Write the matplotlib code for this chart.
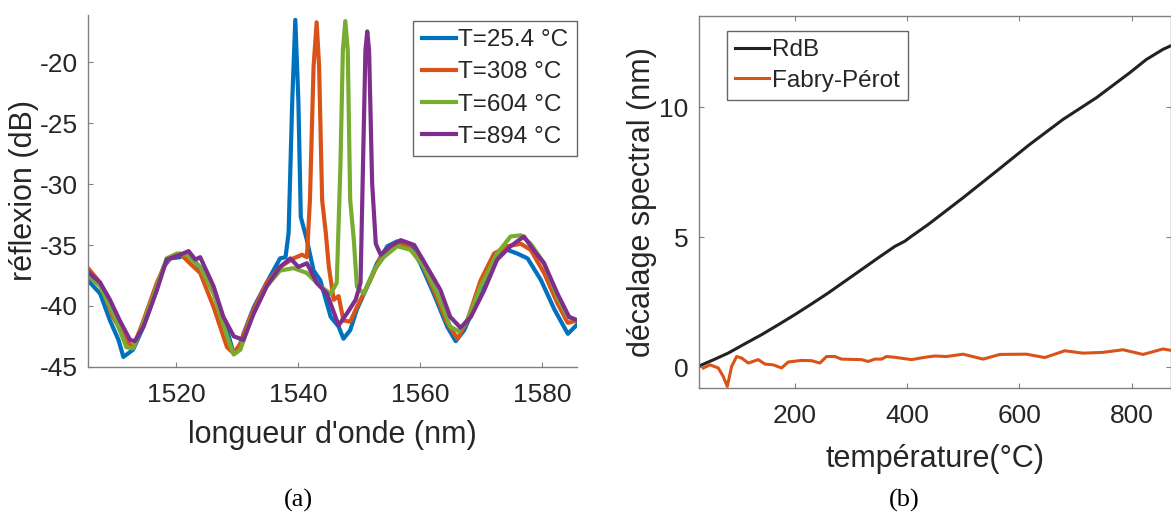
import numpy as np
import matplotlib
matplotlib.use("Agg")
import matplotlib.pyplot as plt

plt.rcParams['font.family'] = ['Liberation Sans', 'DejaVu Sans']
plt.rcParams['axes.unicode_minus'] = False

# (a) reflection spectra, wavelength (nm) / reflection (dB)
wl_25 = [1505.5, 1507.5, 1509.1, 1510.5, 1511.3, 1512.9, 1514.6, 1516.2, 1517.9, 1519.0,
         1520.6, 1521.7, 1523.3, 1525.0, 1526.6, 1528.3, 1529.4, 1530.2, 1531.0, 1532.7,
         1534.8, 1537.0, 1537.9, 1538.4, 1539.0, 1539.5, 1540.0, 1540.4, 1541.4, 1542.5,
         1543.6, 1545.3, 1546.6, 1547.4, 1548.5, 1549.6, 1551.3, 1552.9, 1554.6, 1556.2,
         1558.4, 1560.0, 1562.2, 1564.4, 1565.8, 1567.2, 1569.4, 1571.5, 1573.7, 1575.9,
         1577.6, 1579.8, 1582.0, 1584.2, 1585.8]
r_25 = [-37.9, -39.0, -41.2, -42.8, -44.2, -43.6, -41.7, -39.5, -36.8, -36.1,
        -36.0, -35.7, -36.5, -37.6, -39.5, -42.0, -43.9, -43.6, -42.3, -40.1,
        -38.1, -36.1, -36.0, -34.0, -23.1, -16.5, -23.1, -32.7, -34.6, -37.1,
        -37.9, -40.9, -41.7, -42.7, -42.0, -40.3, -38.4, -36.5, -35.1, -34.7,
        -35.1, -36.5, -39.0, -41.7, -42.9, -42.0, -39.5, -36.8, -35.3, -35.7,
        -36.1, -37.9, -40.3, -42.3, -41.5]

wl_308 = [1505.5, 1507.5, 1509.6, 1511.8, 1512.9, 1514.6, 1516.8, 1518.4, 1520.6, 1522.2,
          1523.9, 1526.1, 1528.3, 1529.4, 1530.5, 1532.1, 1534.8, 1537.0, 1539.2, 1540.6,
          1541.4, 1541.9, 1542.5, 1543.0, 1543.4, 1543.9, 1544.5, 1545.0, 1545.8, 1546.6,
          1547.4, 1548.5, 1549.6, 1551.8, 1553.5, 1555.7, 1557.9, 1560.0, 1562.2, 1564.4,
          1566.1, 1567.7, 1569.9, 1572.1, 1574.3, 1576.5, 1578.1, 1580.3, 1582.5, 1584.2,
          1585.8]
r_308 = [-36.9, -38.1, -40.9, -42.9, -43.4, -41.2, -38.1, -36.3, -35.7, -36.5,
         -37.3, -40.1, -43.4, -43.9, -43.1, -40.9, -38.1, -36.8, -36.1, -35.8,
         -36.0, -31.3, -20.3, -16.7, -20.3, -31.3, -34.0, -36.8, -39.5, -39.2,
         -41.2, -41.3, -40.1, -37.9, -36.0, -34.9, -35.1, -36.2, -38.7, -41.4,
         -42.7, -41.2, -37.9, -35.7, -35.1, -34.9, -35.4, -37.3, -39.8, -41.4,
         -41.2]

wl_604 = [1505.5, 1507.5, 1509.6, 1511.8, 1512.9, 1514.6, 1516.8, 1518.4, 1520.1, 1521.7,
          1523.9, 1526.1, 1528.3, 1529.4, 1530.5, 1532.1, 1534.8, 1537.0, 1539.2, 1541.4,
          1543.6, 1545.3, 1546.3, 1546.9, 1547.3, 1547.7, 1548.1, 1548.5, 1549.1, 1549.6,
          1550.7, 1552.4, 1554.0, 1556.2, 1558.4, 1560.6, 1562.8, 1564.9, 1566.3, 1567.7,
          1569.9, 1572.6, 1574.8, 1576.5, 1578.1, 1580.3, 1582.5, 1584.2, 1585.8]
r_604 = [-37.5, -38.4, -40.6, -43.4, -43.5, -41.4, -38.4, -36.1, -35.7, -35.8,
         -36.8, -39.0, -42.5, -44.0, -43.6, -41.2, -38.4, -37.1, -36.9, -37.3,
         -38.4, -39.0, -38.1, -28.5, -19.0, -16.6, -19.0, -31.3, -34.6, -38.4,
         -39.0, -37.1, -36.0, -35.1, -35.4, -36.8, -39.0, -41.7, -42.1, -41.2,
         -38.4, -35.7, -34.3, -34.2, -34.9, -36.5, -39.3, -40.9, -41.2]

wl_894 = [1505.5, 1507.5, 1509.1, 1510.7, 1512.4, 1513.2, 1514.6, 1516.8, 1518.4, 1520.6,
          1522.0, 1523.1, 1523.9, 1526.1, 1527.7, 1529.4, 1531.0, 1532.7, 1534.8, 1537.0,
          1538.7, 1540.0, 1541.4, 1543.0, 1544.7, 1546.6, 1548.0, 1549.4, 1550.2, 1550.6,
          1551.0, 1551.3, 1551.6, 1552.1, 1552.7, 1553.5, 1555.1, 1556.8, 1559.0, 1561.1,
          1563.3, 1564.9, 1566.6, 1568.3, 1570.5, 1572.6, 1574.8, 1577.0, 1578.7, 1580.3,
          1582.5, 1584.4, 1585.8]
r_894 = [-37.2, -38.1, -39.5, -41.2, -42.8, -42.9, -41.7, -38.7, -36.2, -35.8,
         -35.5, -36.2, -36.0, -38.4, -40.9, -42.5, -42.8, -40.6, -38.4, -36.8,
         -36.1, -36.8, -36.5, -38.1, -39.0, -41.6, -40.6, -39.5, -38.1, -28.5,
         -19.0, -17.45, -19.0, -29.9, -34.9, -35.8, -35.1, -34.6, -35.0, -36.8,
         -38.7, -40.9, -41.8, -40.9, -38.7, -36.2, -35.1, -34.3, -35.5, -36.5,
         -39.0, -40.9, -41.2]

labels_a = ['T=25.4 °C', 'T=308 °C', 'T=604 °C', 'T=894 °C']
colors_a = ['#0072BD', '#D95319', '#77AC30', '#7E2F8E']

# (b) spectral shift vs temperature
temp_rdb = [31, 57.6, 81, 111, 140.7, 170.3, 200, 229.7, 259.3, 289, 318.7, 348.3, 378,
            395.8, 407.7, 437.3, 499.6, 559, 618.4, 677.7, 737, 796.4, 826, 855.7, 869]
shift_rdb = [0.07, 0.32, 0.55, 0.91, 1.26, 1.64, 2.03, 2.44, 2.86, 3.31, 3.76, 4.21, 4.65,
             4.85, 5.04, 5.49, 6.52, 7.54, 8.57, 9.53, 10.36, 11.32, 11.83, 12.22, 12.35]

temp_fp = [36.8, 48.7, 63.5, 72.4, 79.5, 87.3, 96.2, 105.1, 116.9, 134.7, 146.6, 161.4,
           176.3, 188.1, 211.9, 229.7, 244.5, 256.4, 271.2, 283.1, 318.7, 330.5, 342.4,
           354.3, 363.2, 378, 407.7, 431.4, 449.2, 470, 499.6, 535.2, 564.9, 612.4, 645,
           680.6, 713.2, 748.8, 784.4, 820, 855.6, 869]
shift_fp = [-0.02, 0.10, -0.02, -0.35, -0.73, 0.04, 0.42, 0.36, 0.17, 0.30, 0.13, 0.10,
            -0.02, 0.21, 0.27, 0.26, 0.17, 0.42, 0.42, 0.32, 0.30, 0.23, 0.32,
            0.32, 0.42, 0.39, 0.30, 0.39, 0.44, 0.42, 0.51, 0.32, 0.50, 0.51, 0.38,
            0.64, 0.55, 0.58, 0.68, 0.50, 0.71, 0.66]

W, H = 1171, 524
fig = plt.figure(figsize=(W / 100, H / 100), dpi=100)

spine_c = '#808080'
text_c = '#262626'


def px_box(x0, y0, x1, y1):
    # pixel box (top-left origin) -> figure fraction rect
    return [x0 / W, (H - y1) / H, (x1 - x0) / W, (y1 - y0) / H]


# ---- (a)
ax1 = fig.add_axes(px_box(88, 15, 577, 366.7))
series = [(wl_25, r_25), (wl_308, r_308), (wl_604, r_604), (wl_894, r_894)]
for (x, y), lab, c in zip(series, labels_a, colors_a):
    ax1.plot(x, y, color=c, lw=3.0, label=lab, solid_joinstyle='round')
ax1.set_xlim(1505.5, 1585.7)
ax1.set_ylim(-45, -16.1)
ax1.set_xticks([1520, 1540, 1560, 1580])
ax1.set_yticks([-45, -40, -35, -30, -25, -20])
ax1.spines['top'].set_visible(False)
ax1.spines['right'].set_visible(False)
for s in ['left', 'bottom']:
    ax1.spines[s].set_color(spine_c)
    ax1.spines[s].set_linewidth(1.0)
ax1.tick_params(direction='in', length=3.5, width=0.8, color=spine_c,
                labelsize=19, labelcolor=text_c)
ax1.tick_params(axis='x', pad=12)
ax1.tick_params(axis='y', pad=7)
ax1.set_xlabel("longueur d'onde (nm)", fontsize=22, color=text_c)
ax1.set_ylabel("réflexion (dB)", fontsize=22, color=text_c)
ax1.xaxis.set_label_coords(0.5, -0.152)
ax1.yaxis.set_label_coords(-0.1, 0.5)
leg1 = ax1.legend(loc='upper right', bbox_to_anchor=(577 / W, (H - 20.7) / H),
                  bbox_transform=fig.transFigure, fontsize=17.5, frameon=True,
                  fancybox=False, borderaxespad=0, handlelength=1.4,
                  handletextpad=0.1, labelspacing=0.42, borderpad=0.35)
leg1.get_frame().set_edgecolor('#404040')
leg1.get_frame().set_linewidth(1.0)
for t in leg1.get_texts():
    t.set_color(text_c)

# ---- (b)
ax2 = fig.add_axes(px_box(699.3, 16, 1170.5, 387.5))
ax2.plot(temp_rdb, shift_rdb, color='#222222', lw=2.2, label='RdB')
ax2.plot(temp_fp, shift_fp, color='#D95319', lw=2.2, label='Fabry-Pérot')
ax2.set_xlim(29.7, 869)
ax2.set_ylim(-0.77, 13.5)
ax2.set_xticks([200, 400, 600, 800])
ax2.set_yticks([0, 5, 10])
for s in ax2.spines.values():
    s.set_color(spine_c)
    s.set_linewidth(1.0)
ax2.tick_params(direction='in', length=3.5, width=0.8, color=spine_c,
                labelsize=19, labelcolor=text_c, top=True, right=True)
ax2.tick_params(axis='x', pad=12)
ax2.tick_params(axis='y', pad=8)
ax2.set_xlabel("température(°C)", fontsize=22, color=text_c)
ax2.set_ylabel("décalage spectral (nm)", fontsize=22, color=text_c)
ax2.xaxis.set_label_coords(0.5, -0.152)
ax2.yaxis.set_label_coords(-0.09, 0.5)
leg2 = ax2.legend(loc='upper left', bbox_to_anchor=(726.7 / W, (H - 30.7) / H),
                  bbox_transform=fig.transFigure, fontsize=17.5, frameon=True,
                  fancybox=False, borderaxespad=0, handlelength=1.4,
                  handletextpad=0.1, labelspacing=0.35, borderpad=0.35)
leg2.get_frame().set_edgecolor('#404040')
leg2.get_frame().set_linewidth(1.0)
for t in leg2.get_texts():
    t.set_color(text_c)

fig.text(298 / W, (H - 500) / H, '(a)', family=['Liberation Serif', 'DejaVu Serif'],
         fontsize=19, ha='center', va='center', color='black')
fig.text(904 / W, (H - 500) / H, '(b)', family=['Liberation Serif', 'DejaVu Serif'],
         fontsize=19, ha='center', va='center', color='black')

fig.savefig('out.png', dpi=100, facecolor='white')
